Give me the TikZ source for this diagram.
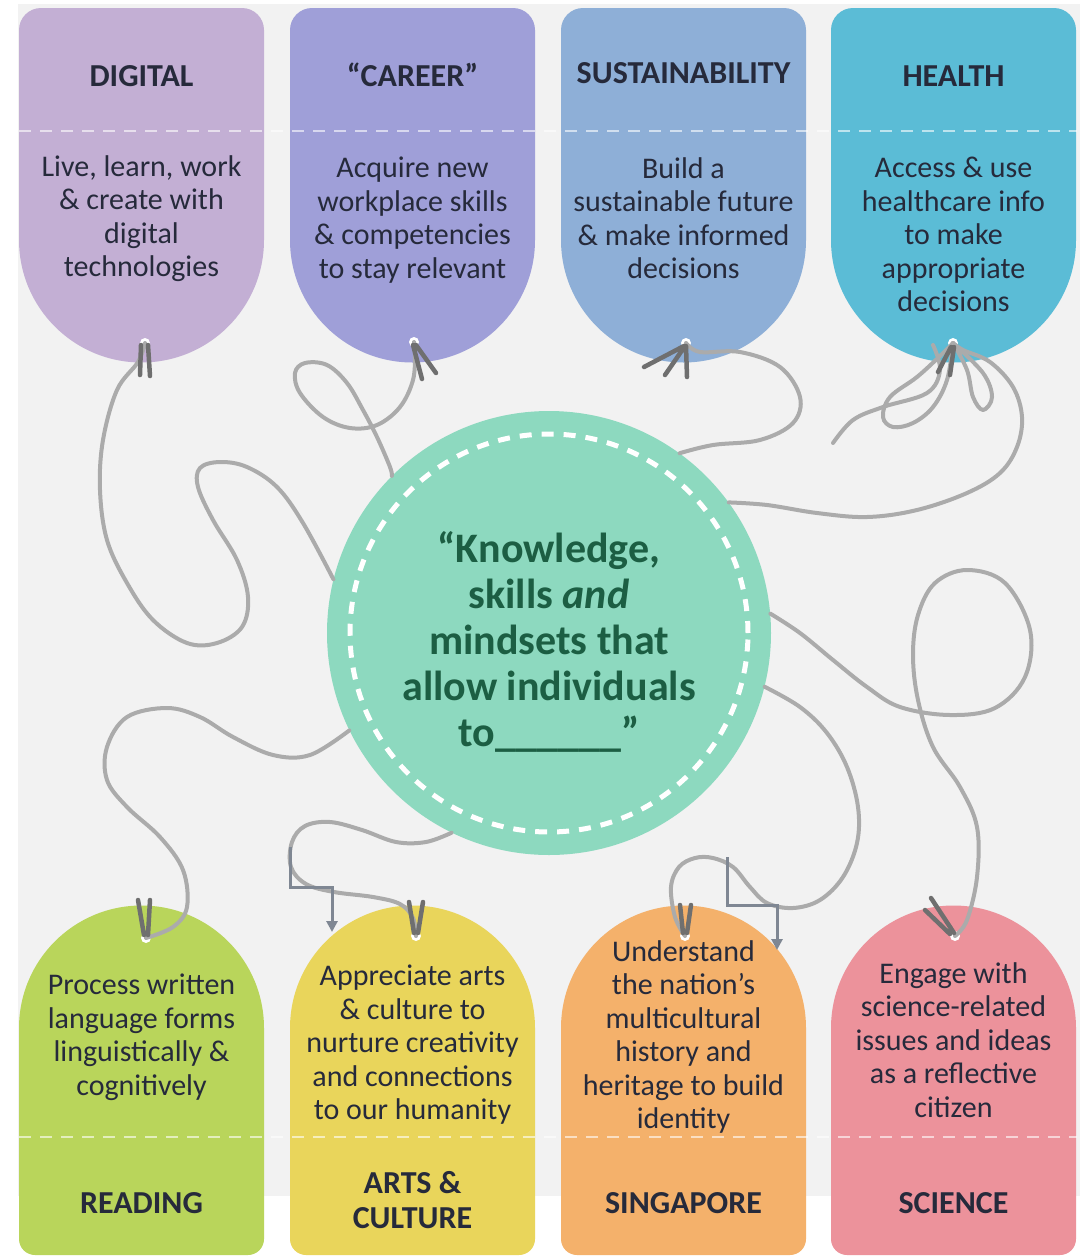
\documentclass[tikz,border=0pt]{standalone}
\usepackage{fontspec}
\setmainfont{Carlito}
\usetikzlibrary{arrows.meta}

\definecolor{panelgray}{HTML}{F2F2F2}
\definecolor{digitalc}{HTML}{C3AFD4}
\definecolor{careerc}{HTML}{9F9FD8}
\definecolor{sustainc}{HTML}{8EAFD7}
\definecolor{healthc}{HTML}{5BBCD6}
\definecolor{readingc}{HTML}{B9D55B}
\definecolor{artsc}{HTML}{E9D55B}
\definecolor{singaporec}{HTML}{F4B16B}
\definecolor{sciencec}{HTML}{EC929B}
\definecolor{coregreen}{HTML}{8DD9BF}
\definecolor{coreink}{HTML}{1C5E43}
\definecolor{ink}{HTML}{262A3B}
\definecolor{threadgray}{HTML}{ABABAB}
\definecolor{peggray}{HTML}{6F6F6F}
\definecolor{arrowgray}{HTML}{7F8793}

\tikzset{
    tagtitle/.style={font=\fontsize{32}{35}\selectfont\bfseries, text=ink, inner sep=0pt, align=center},
    tagtext/.style={font=\fontsize{30}{33.5}\selectfont, text=ink, inner sep=0pt, align=center, anchor=north},
    coretext/.style={font=\fontsize{42}{46}\selectfont\bfseries, text=coreink, inner sep=0pt, align=center, anchor=north},
    thread/.style={draw=threadgray, line width=4pt, line cap=round, line join=round},
    peg/.style={draw=peggray, line width=4.5pt, line cap=round},
    divider/.style={draw=white, draw opacity=0.6, line width=2pt, dash pattern=on 12pt off 9pt},
    elbow/.style={draw=arrowgray, line width=3pt, -{Triangle[width=11pt,length=11pt]}}
}

\begin{document}
\begin{tikzpicture}[x=1pt,y=-1pt]
    \useasboundingbox (0,0) rectangle (1086,1256);
    % Background panel
    \fill[white] (0,0) rectangle (1086,1256);
    \fill[panelgray] (18,4) rectangle (1080,1196);

    % Centre circle
    \node[circle, fill=coregreen, minimum size=444pt, inner sep=0pt] (core) at (549,633) {};
    \draw[white, line width=5pt, dash pattern=on 12pt off 10pt] (core.center) circle[radius=199pt];
    \node[coretext] (coretext) at (549,531) {“Knowledge,\\ skills \textit{and}\\ mindsets that\\ allow individuals\\ to\_\_\_\_\_\_”};

    % Top tags
    \fill[digitalc] (19,240) -- (19,30) arc[start angle=180,end angle=90,radius=22pt] -- (242,8) arc[start angle=90,end angle=0,radius=22pt] -- (264,240) arc[start angle=0,end angle=-180,radius=122.5pt] -- cycle;
    \fill[careerc] (290,240) -- (290,30) arc[start angle=180,end angle=90,radius=22pt] -- (513,8) arc[start angle=90,end angle=0,radius=22pt] -- (535,240) arc[start angle=0,end angle=-180,radius=122.5pt] -- cycle;
    \fill[sustainc] (561,240) -- (561,30) arc[start angle=180,end angle=90,radius=22pt] -- (784,8) arc[start angle=90,end angle=0,radius=22pt] -- (806,240) arc[start angle=0,end angle=-180,radius=122.5pt] -- cycle;
    \fill[healthc] (831,240) -- (831,30) arc[start angle=180,end angle=90,radius=22pt] -- (1054,8) arc[start angle=90,end angle=0,radius=22pt] -- (1076,240) arc[start angle=0,end angle=-180,radius=122.5pt] -- cycle;

    % Bottom tags
    \fill[readingc] (19,1028) arc[start angle=180,end angle=0,radius=122.5pt] -- (264,1239) arc[start angle=0,end angle=-90,radius=16pt] -- (35,1255) arc[start angle=270,end angle=180,radius=16pt] -- cycle;
    \fill[artsc] (290,1028) arc[start angle=180,end angle=0,radius=122.5pt] -- (535,1239) arc[start angle=0,end angle=-90,radius=16pt] -- (306,1255) arc[start angle=270,end angle=180,radius=16pt] -- cycle;
    \fill[singaporec] (561,1028) arc[start angle=180,end angle=0,radius=122.5pt] -- (806,1239) arc[start angle=0,end angle=-90,radius=16pt] -- (577,1255) arc[start angle=270,end angle=180,radius=16pt] -- cycle;
    \fill[sciencec] (831,1028) arc[start angle=180,end angle=0,radius=122.5pt] -- (1076,1239) arc[start angle=0,end angle=-90,radius=16pt] -- (847,1255) arc[start angle=270,end angle=180,radius=16pt] -- cycle;

    % Dashed fold lines
    \draw[divider] (19,131) -- (1077,131);
    \draw[divider] (19,1137) -- (1077,1137);

    % Top tag texts
    \node[tagtitle, anchor=base] (digitaltitle) at (141.5,86) {DIGITAL};
    \node[tagtitle, anchor=base] (careertitle) at (412.5,86) {“CAREER”};
    \node[tagtitle, anchor=base] (sustaintitle) at (683.5,83) {SUSTAINABILITY};
    \node[tagtitle, anchor=base] (healthtitle) at (953.5,86) {HEALTH};
    \node[tagtext] (digitaltext) at (141.5,155) {Live, learn, work\\ \& create with\\ digital\\ technologies};
    \node[tagtext] (careertext) at (412.5,157) {Acquire new\\ workplace skills\\ \& competencies\\ to stay relevant};
    \node[tagtext] (sustaintext) at (683.5,157) {Build a\\ sustainable future\\ \& make informed\\ decisions};
    \node[tagtext] (healthtext) at (953.5,157) {Access \& use\\ healthcare info\\ to make\\ appropriate\\ decisions};

    % Bottom tag texts
    \node[tagtext] (readingtext) at (141.5,974) {Process written\\ language forms\\ linguistically \&\\ cognitively};
    \node[tagtext] (artstext) at (412.5,965) {Appreciate arts\\ \& culture to\\ nurture creativity\\ and connections\\ to our humanity};
    \node[tagtext] (singaporetext) at (683.5,940) {Understand\\ the nation’s\\ multicultural\\ history and\\ heritage to build\\ identity};
    \node[tagtext] (sciencetext) at (953.5,962) {Engage with\\ science-related\\ issues and ideas\\ as a reflective\\ citizen};
    \node[tagtitle, anchor=base] (readingtitle) at (141.5,1213) {READING};
    \node[tagtitle, anchor=north] (artstitle) at (412.5,1171) {ARTS \&\\ CULTURE};
    \node[tagtitle, anchor=base] (singaporetitle) at (683.5,1213) {SINGAPORE};
    \node[tagtitle, anchor=base] (sciencetitle) at (953.5,1213) {SCIENCE};

    % Holes
    \coordinate (digitalhole) at (145,343);
    \coordinate (careerhole) at (414,342);
    \coordinate (sustainhole) at (686,343);
    \coordinate (healthhole) at (953,343);
    \coordinate (readinghole) at (146,938);
    \coordinate (artshole) at (416,936);
    \coordinate (singaporehole) at (685,936);
    \coordinate (sciencehole) at (955,936);
    \fill[white] (digitalhole) circle[radius=5pt] (careerhole) circle[radius=5pt] (sustainhole) circle[radius=5pt] (healthhole) circle[radius=5pt];
    \fill[white] (readinghole) circle[radius=5pt] (artshole) circle[radius=5pt] (singaporehole) circle[radius=5pt] (sciencehole) circle[radius=5pt];

    % Threads from the tags to the circle
    \draw[thread] plot[smooth, tension=0.6] coordinates {(digitalhole) (138,362) (117,390) (103,440) (100,490) (107,540) (127,583) (153,620) (187,643) (217,643) (242,627) (248,597) (237,560) (213,520) (198,487) (200,468) (220,462) (247,467) (277,487) (303,523) (core.166)};
    \draw[thread] plot[smooth, tension=0.6] coordinates {(careerhole) (415,352) (413,380) (400,407) (377,425) (350,428) (323,417) (300,393) (295,373) (305,363) (327,365) (347,383) (363,410) (377,437) (390,467) (core.135)};
    \draw[thread] plot[smooth, tension=0.6] coordinates {(sustainhole) (700,352) (740,352) (780,367) (800,397) (793,423) (760,440) (713,445) (core.54)};
    \draw[thread] plot[smooth, tension=0.6] coordinates {(healthhole) (963,350) (990,362) (1013,387) (1022,417) (1017,447) (1000,473) (967,493) (917,510) (867,517) (817,513) (767,505) (core.36)};
    \draw[thread] plot[smooth, tension=0.6] coordinates {(healthhole) (940,356) (917,377) (890,397) (883,417) (893,427) (913,423) (933,407) (947,380) (healthhole)};
    \draw[thread] plot[smooth, tension=0.6] coordinates {(healthhole) (967,370) (973,397) (983,410) (992,397) (983,373) (healthhole)};
    \draw[thread] plot[smooth, tension=0.6] coordinates {(933,345) (940,370) (927,393) (883,407) (853,420) (833,443)};
    \draw[thread] plot[smooth, tension=0.6] coordinates {(sciencehole) (967,920) (977,877) (977,827) (960,787) (933,747) (918,700) (913,655) (918,615) (935,583) (967,570) (1005,583) (1030,630) (1025,677) (995,708) (950,715) (900,707) (867,687) (833,660) (800,633) (core.5)};
    \draw[thread] plot[smooth, tension=0.6] coordinates {(core.-14) (800,707) (827,733) (847,767) (858,807) (857,843) (843,877) (820,900) (793,908) (767,903) (750,887) (733,867) (713,858) (695,858) (679,867) (671,887) (675,917) (singaporehole)};
    \draw[thread] plot[smooth, tension=0.6] coordinates {(core.244) (426,842) (396,842) (362,830) (330,822) (305,826) (292,842) (291,867) (306,884) (334,892) (373,897) (400,904) (413,918) (artshole)};
    \draw[thread] plot[smooth, tension=0.6] coordinates {(core.206) (310,755) (273,755) (233,737) (200,717) (167,708) (127,717) (107,747) (107,780) (127,807) (160,837) (183,870) (187,907) (173,927) (readinghole)};

    % Pegs
    \draw[peg] (141,345) -- (140,375) (148,345) -- (150,376);
    \draw[peg] (413,345) -- (422,379) (416,345) -- (436,373);
    \draw[peg] (684,346) -- (644,367) (685,346) -- (665,375) (686,346) -- (687,377);
    \draw[peg] (951,347) -- (938,372) (954,347) -- (950,375);
    \draw[peg] (138,900) -- (144,935) (150,900) -- (148,935);
    \draw[peg] (409,902) -- (414,933) (423,902) -- (418,933);
    \draw[peg] (680,905) -- (683,933) (691,905) -- (687,933);
    \draw[peg] (931,898) -- (954,933) (925,910) -- (950,934);

    % Step arrows
    \coordinate (artsstart) at (290,847);
    \coordinate (artsend) at (332,932);
    \coordinate (sgstart) at (727,857);
    \coordinate (sgend) at (777,950);
    \draw[elbow] (artsstart) -- ++(0,40) -| (artsend);
    \draw[elbow] (sgstart) -- ++(0,48) -| (sgend);
\end{tikzpicture}
\end{document}
